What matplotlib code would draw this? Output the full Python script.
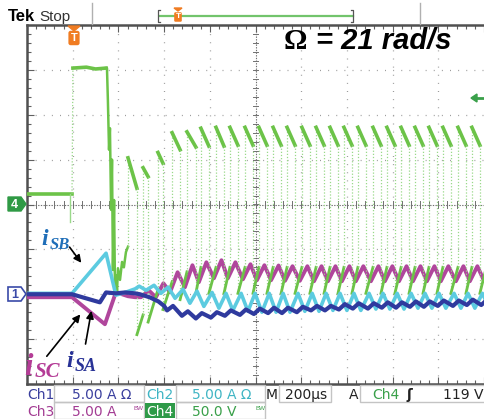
import numpy as np
import matplotlib
matplotlib.use("Agg")
import matplotlib.pyplot as plt
from matplotlib.patches import Rectangle, Polygon

# ---------------- data ----------------
# time in us from the left edge of the graticule (200 us/div, 10 div)
# Ch4 (green) : 50 V/div, ground at the centre line
# Ch1/2/3     : 5 A/div, ground 2 div below centre
ch4_base_t = [0, 197]
ch4_base_v = [12, 12]
ch4_spike_t = [188, 188]
ch4_spike_v = [12, -20]
ch4_high_t = [201, 260, 300, 346]
ch4_high_v = [152, 153, 151, 152]
ch4_fall_t = [346, 350, 354, 359, 363, 368, 372, 376, 381, 385, 389, 394, 398, 407, 416, 424, 433, 442]
ch4_fall_v = [152, 152, 116, 61, 85, -6, 50, -73, 5, -95, -79, -97, -71, -84, -64, -70, -53, -47]

# switching pulses after the start-up
pulse_t = [442, 508, 573, 635, 700, 761, 827, 888, 954, 1015, 1077, 1138, 1203,
           1265, 1326, 1387, 1448, 1514, 1575, 1637, 1698, 1759, 1820, 1886, 1947, 2010]
pulse_w = [39, 22, 22, 35, 39, 35, 35, 35, 35, 35, 35, 35, 35,
           35, 35, 35, 35, 35, 35, 35, 35, 35, 35, 35, 35, 35]
hi_start = [52, 41, 58, 80, 81, 85, 86, 86, 86, 86, 86, 86, 86,
            86, 86, 86, 86, 86, 86, 86, 86, 86, 86, 86, 86, 86]
hi_end = [18, 31, 46, 61, 64, 65, 65, 66, 66, 66, 66, 66, 66,
          66, 66, 66, 66, 66, 66, 66, 66, 66, 66, 66, 66, 66]
lo_start = [-145, -131, -117, -106, -99, -99, -99, -99, -99, -99, -99, -99, -99,
            -99, -99, -99, -99, -99, -99, -99, -99, -99, -99, -99, -99]
lo_end = [-123, -95, -86, -75, -70, -70, -70, -70, -70, -70, -70, -70, -70,
          -70, -70, -70, -70, -70, -70, -70, -70, -70, -70, -70, -70]

# iSA (Ch1, dark blue)
isa_t0 = [0, 197, 319, 346, 389, 429, 473, 494, 538, 575, 600]
isa_a0 = [0, 0, -0.9, 0.2, 0.1, 0.2, 0.1, 0.0, -0.35, -0.8, -1.3]
isa_tr = [-1.8, -2.4, -2.7, -2.6, -2.4, -2.3, -2.2, -2.1, -2.1, -2.0, -1.8, -1.8,
          -1.7, -1.6, -1.6, -1.5, -1.5, -1.4, -1.4, -1.3, -1.3, -1.2, -1.2]
isa_pk = [-1.3, -1.9, -2.1, -2.0, -1.8, -1.7, -1.6, -1.5, -1.5, -1.4, -1.3, -1.3,
          -1.1, -1.0, -1.0, -0.9, -0.9, -0.8, -0.8, -0.7, -0.7, -0.6, -0.6]

# iSB (Ch2, cyan)
isb_t0 = [0, 197, 346, 389, 429, 473]
isb_a0 = [0.1, 0.1, 4.57, -0.1, 0.2, 0.6]
isb_pk = [0.9, 1.0, 0.8, 0.55, 0.35, 0.2, 0.1, 0.1, 0.1, 0.1, 0.1, 0.1, 0.1,
          0.1, 0.1, 0.1, 0.1, 0.1, 0.1, 0.1, 0.1, 0.1, 0.1, 0.1, 0.1]
isb_tr = [0.45, 0.1, -0.45, -1.0, -1.35, -1.55, -1.8, -1.9, -2.0, -2.0, -2.0, -1.9, -1.9,
          -1.8, -1.8, -1.8, -1.65, -1.65, -1.65, -1.55, -1.55, -1.55, -1.55, -1.55, -1.55]

# iSC (Ch3, magenta)
isc_t0 = [0, 197, 341, 389, 442, 473]
isc_a0 = [-0.33, -0.33, -3.34, 0.22, -0.22, -0.33]
isc_tr = [-0.33, -0.33, 0.22, 0.78, 1.34, 1.78, 1.78, 1.67, 1.56, 1.56, 1.5, 1.5, 1.45,
          1.45, 1.45, 1.45, 1.45, 1.45, 1.45, 1.45, 1.45, 1.45, 1.45, 1.45, 1.45]
isc_pk = [0.45, 1.22, 2.45, 3.23, 3.56, 3.79, 3.56, 3.34, 3.23, 3.2, 3.12, 3.12, 3.12,
          3.12, 3.12, 3.12, 3.12, 3.12, 3.12, 3.12, 3.12, 3.12, 3.12, 3.12, 3.12]

V_DIV = 50.0
A_DIV = 5.0
CH1_GND = -2.0

GREEN = "#6cc348"
GREEN_LT = "#9ad98a"
CYAN = "#5ccbe0"
MAG = "#b0469c"
BLUE = "#2f3a9e"
ORANGE = "#f07c22"


def vdiv(v):
    return np.asarray(v, float) / V_DIV


def adiv(a):
    return np.asarray(a, float) / A_DIV + CH1_GND


def saw(tp, lo, hi, off_lo, off_hi):
    pts = []
    for t, a, b in zip(tp, lo, hi):
        pts.append((t + off_lo, a))
        pts.append((t + off_hi, b))
    pts.sort()
    return [p[0] for p in pts], [p[1] for p in pts]


fig = plt.figure(figsize=(4.84, 4.19), dpi=100)
fig.patch.set_facecolor("white")
W, H = 484.0, 419.0
ax = fig.add_axes([27 / W, (H - 384) / H, 457 / W, 359 / H])
ax.set_xlim(0, 2000)
ax.set_ylim(-4, 4)

# graticule
for xv in range(200, 2000, 200):
    if xv != 1000:
        ax.axvline(xv, color="#9c9c9c", lw=0.9, ls=(0, (0.8, 5.7)), zorder=1)
for yv in range(-3, 4):
    if yv != 0:
        ax.axhline(yv, color="#9c9c9c", lw=0.9, ls=(0, (0.8, 5.7)), zorder=1)
ax.axvline(1000, color="#707070", lw=0.8, ls=(0, (1.2, 1.2)), zorder=1)
ax.axhline(0, color="#707070", lw=0.8, ls=(0, (1.2, 1.2)), zorder=1)
for yv in np.arange(-4, 4.01, 0.2):
    ax.plot([987, 1013], [yv, yv], color="#707070", lw=0.7, zorder=1)
for xv in np.arange(0, 2001, 40):
    ax.plot([xv, xv], [-0.07, 0.07], color="#707070", lw=0.7, zorder=1)

ax.set_xticks(np.arange(0, 2001, 200))
ax.set_xticks(np.arange(0, 2001, 40), minor=True)
ax.set_yticks(np.arange(-4, 4.01, 1))
ax.set_yticks(np.arange(-4, 4.01, 0.2), minor=True)
ax.tick_params(which="both", direction="in", top=True, bottom=True, left=True, right=False,
               labelleft=False, labelbottom=False, color="#606060", width=0.8)
ax.tick_params(which="major", length=5)
ax.tick_params(which="minor", length=3)
for s in ["left", "top", "bottom"]:
    ax.spines[s].set_color("#505050")
    ax.spines[s].set_linewidth(1.8)
ax.spines["right"].set_visible(False)

# Ch4 (green)
ax.plot(ch4_base_t, vdiv(ch4_base_v), color=GREEN, lw=2.6, zorder=4)
ax.plot(ch4_spike_t, vdiv(ch4_spike_v), color=GREEN_LT, lw=1.0, zorder=4)
ax.plot([ch4_base_t[-1], ch4_high_t[0]], vdiv([ch4_base_v[-1], ch4_high_v[0]]),
        color=GREEN_LT, lw=0.9, ls=(0, (1, 1.5)), zorder=4)
ax.plot(ch4_high_t, vdiv(ch4_high_v), color=GREEN, lw=2.6, zorder=4)
ax.plot(ch4_fall_t, vdiv(ch4_fall_v), color=GREEN, lw=1.8, zorder=4)
ax.plot([ch4_fall_t[-1], pulse_t[0]], vdiv([ch4_fall_v[-1], hi_start[0]]),
        color=GREEN_LT, lw=0.9, ls=(0, (1, 1.5)), zorder=4)
for k in range(len(pulse_t) - 1):
    t0 = pulse_t[k]
    t1 = t0 + pulse_w[k]
    tn = pulse_t[k + 1]
    ax.plot([t0, t1], vdiv([hi_start[k], hi_end[k]]), color=GREEN, lw=2.6, zorder=4)
    ax.plot([t1, t1], vdiv([hi_end[k], lo_start[k]]), color=GREEN_LT, lw=0.9,
            ls=(0, (1, 1.5)), zorder=4)
    ax.plot([t1, tn], vdiv([lo_start[k], lo_end[k]]), color=GREEN, lw=2.0, zorder=4)
    ax.plot([tn, tn], vdiv([lo_end[k], hi_start[k + 1]]), color=GREEN_LT, lw=0.9,
            ls=(0, (1, 1.5)), zorder=4)

# currents
tx, ty = saw(pulse_t[1:], isc_tr, isc_pk, -9, 24)
ax.plot(isc_t0 + tx, adiv(isc_a0 + ty), color=MAG, lw=2.8, zorder=3)
tx, ty = saw(pulse_t[1:], isb_tr, isb_pk, 13, -17)
ax.plot(isb_t0 + tx, adiv(isb_a0 + ty), color=CYAN, lw=2.6, zorder=5)
tx, ty = saw(pulse_t[3:], isa_tr, isa_pk, -22, 4)
ax.plot(isa_t0 + tx, adiv(isa_a0 + ty), color=BLUE, lw=3.0, zorder=6)

# label arrows
arr = dict(arrowstyle="-|>", color="black", lw=1.2, mutation_scale=11)
ax.annotate("", xy=(245, -1.35), xytext=(179, -0.90), arrowprops=arr, zorder=8)
ax.annotate("", xy=(241, -2.40), xytext=(79, -3.43), arrowprops=arr, zorder=8)
ax.annotate("", xy=(284, -2.31), xytext=(254, -3.17), arrowprops=arr, zorder=8)

# ---------------- overlay in screen pixels ----------------
ov = fig.add_axes([0, 0, 1, 1], zorder=10)
ov.set_xlim(0, W)
ov.set_ylim(H, 0)
ov.axis("off")

serif = "Liberation Serif"
sans = "Liberation Sans"
scope = "DejaVu Sans"

# current labels
ov.text(41, 245, "i", family=serif, weight="bold", style="italic", fontsize=17,
        color="#1f6eb8", va="baseline")
ov.text(50, 249, "SB", family=serif, weight="bold", style="italic", fontsize=12,
        color="#1f6eb8", va="baseline")
ov.text(24, 375, "i", family=serif, weight="bold", style="italic", fontsize=22,
        color="#b43c96", va="baseline")
ov.text(35, 377, "SC", family=serif, weight="bold", style="italic", fontsize=15,
        color="#b43c96", va="baseline")
ov.text(66, 367, "i", family=serif, weight="bold", style="italic", fontsize=17,
        color="#283296", va="baseline")
ov.text(75, 371, "SA", family=serif, weight="bold", style="italic", fontsize=13,
        color="#283296", va="baseline")

# speed caption
ov.text(284, 49, "\u03a9", family=serif, weight="bold", fontsize=21, va="baseline")
ov.text(316, 49, "= 21 rad/s", family=sans, weight="bold", style="italic", fontsize=21,
        va="baseline")

# header
ov.text(8, 21, "Tek", family=sans, weight="bold", fontsize=12, va="baseline")
ov.text(39, 21, "Stop", family=sans, fontsize=11, color="#333333", va="baseline")
ov.plot([92, 92], [3, 24], color="#b0b0b0", lw=1)
ov.plot([420, 420], [3, 24], color="#b0b0b0", lw=1)
ov.plot([160, 353], [16, 16], color="#72c46c", lw=1.6)
ov.plot([160, 158, 158, 160], [10, 10, 22, 22], color="#555555", lw=0.9)
ov.plot([351, 353, 353, 351], [10, 10, 22, 22], color="#555555", lw=0.9)
ov.add_patch(Polygon([(174, 8), (182, 8), (178, 11)], closed=True, color=ORANGE))
ov.text(178, 17, "T", color="white", fontsize=6, weight="bold", ha="center", va="center",
        family=sans, bbox=dict(boxstyle="round,pad=0.15", fc=ORANGE, ec="none"))

# trigger position marker
ov.add_patch(Polygon([(68, 26), (80, 26), (74, 31)], closed=True, color=ORANGE, zorder=5))
ov.text(74, 38, "T", color="white", fontsize=8, weight="bold", ha="center", va="center",
        family=sans, bbox=dict(boxstyle="round,pad=0.2", fc=ORANGE, ec="none"))

# channel ground markers
ov.add_patch(Polygon([(8, 197), (21, 197), (26, 204), (21, 211), (8, 211)], closed=True,
                     fc="#2f9a45", ec="#2f9a45"))
ov.text(14.5, 204.5, "4", color="white", fontsize=9, weight="bold", ha="center", va="center",
        family=sans)
ov.add_patch(Polygon([(8, 287), (21, 287), (26, 294), (21, 301), (8, 301)], closed=True,
                     fc="white", ec="#3a4aa8", lw=1.2))
ov.text(14.5, 294.5, "1", color="#3a4aa8", fontsize=9, weight="bold", ha="center",
        va="center", family=sans)

# trigger level arrow (Ch4, 119 V)
ov.plot([476, 484], [98, 98], color="#3aa04a", lw=2)
ov.add_patch(Polygon([(471, 98), (477, 94), (477, 102)], closed=True, color="#3aa04a"))

# status bar
C1, C2, C3, C4 = "#3a3f9e", "#3fb5c4", "#a33c93", "#3aa04a"
box_ec = "#c4c4c4"
for x0, y0, x1, y1 in [(54, 385, 144, 402), (176, 385, 265, 402), (279, 385, 331, 402),
                       (360, 385, 490, 402), (54, 402, 144, 419), (176, 402, 265, 419)]:
    ov.add_patch(Rectangle((x0, y0), x1 - x0, y1 - y0, fc="none", ec=box_ec, lw=1))
ov.add_patch(Rectangle((145, 403), 30, 15, fc="#2e9a48", ec="none"))

fs = 10
row1, row2 = 398.5, 415.5
ov.text(27, row1, "Ch1", color=C1, fontsize=fs, family=scope, va="baseline")
ov.text(72, row1, "5.00 A \u03a9", color=C1, fontsize=fs, family=scope, va="baseline")
ov.text(146, row1, "Ch2", color=C2, fontsize=fs, family=scope, va="baseline")
ov.text(192, row1, "5.00 A \u03a9", color=C2, fontsize=fs, family=scope, va="baseline")
ov.text(266, row1, "M", color="#222222", fontsize=fs, family=scope, va="baseline")
ov.text(285, row1, "200\u00b5s", color="#222222", fontsize=fs, family=scope, va="baseline")
ov.text(349, row1, "A", color="#222222", fontsize=fs, family=scope, va="baseline")
ov.text(372, row1, "Ch4", color=C4, fontsize=fs, family=scope, va="baseline")
ov.text(407, row1, "\u0283", color="#222222", fontsize=fs, weight="bold", va="baseline")
ov.text(443, row1, "119 V", color="#222222", fontsize=fs, family=scope, va="baseline")
ov.text(27, row2, "Ch3", color=C3, fontsize=fs, family=scope, va="baseline")
ov.text(72, row2, "5.00 A", color=C3, fontsize=fs, family=scope, va="baseline")
ov.text(133, 410, "BW", color=C3, fontsize=4.5, family=sans, va="baseline")
ov.text(146, row2, "Ch4", color="white", fontsize=fs, family=scope, va="baseline")
ov.text(192, row2, "50.0 V", color=C4, fontsize=fs, family=scope, va="baseline")
ov.text(255, 410, "BW", color=C4, fontsize=4.5, family=sans, va="baseline")

fig.savefig("out.png", dpi=100, facecolor="white")
